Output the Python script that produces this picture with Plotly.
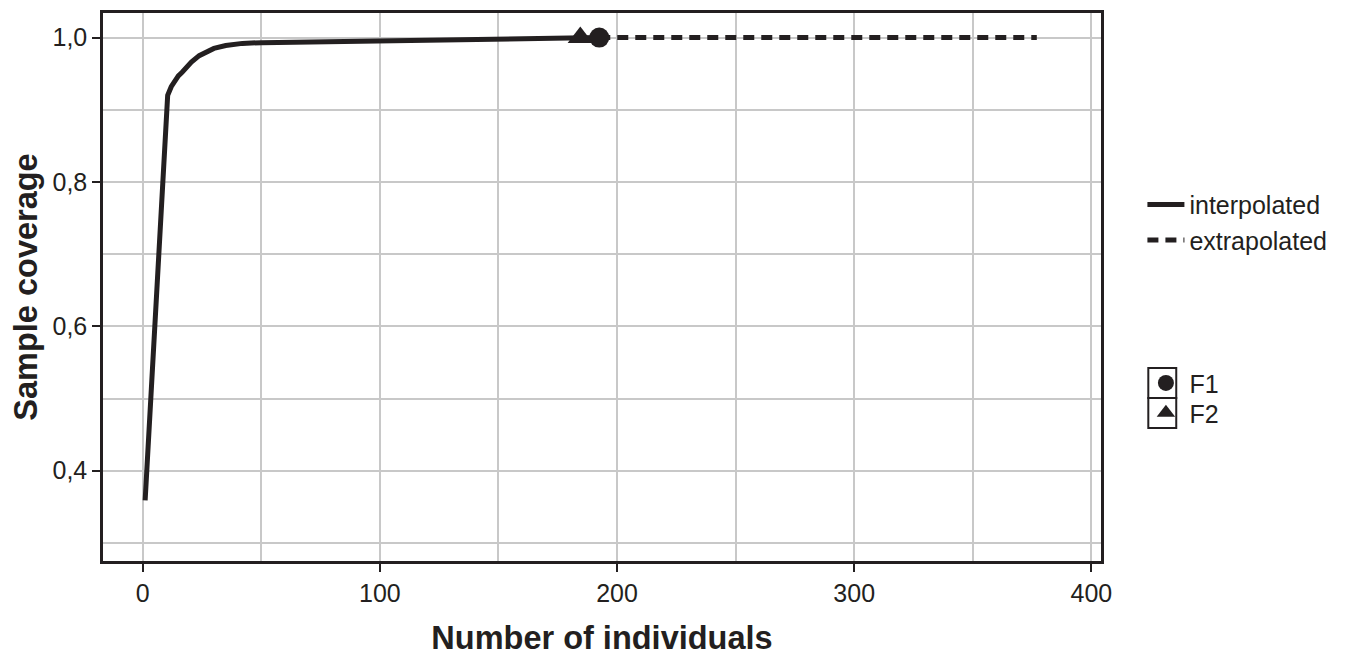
import plotly.graph_objects as go

# Data
interp_x = [1, 10.5, 12, 13.5, 15, 16.6, 18.5, 20.5, 23.8, 27, 30, 35, 42, 50, 100, 150, 192.5]
interp_y = [0.359, 0.92, 0.932, 0.941, 0.947, 0.952, 0.959, 0.966, 0.975, 0.981, 0.985, 0.989, 0.992, 0.993, 0.995, 0.997, 1.0]
extrap_x = [192.5, 377]
extrap_y = [1.0, 1.0]
site_names = ["F1", "F2"]
site_x = [192.5, 184.5]
site_y = [1.0, 1.0]
site_symbols = ["circle", "triangle-up"]
site_sizes = [20, 22]

INK = "#231f20"
GRID = "#c8c8c8"
FONT = "Liberation Sans, Arial, sans-serif"

fig = go.Figure()
fig.add_trace(go.Scatter(x=interp_x, y=interp_y, mode="lines", name="interpolated",
                         line=dict(color=INK, width=5), legend="legend"))
fig.add_trace(go.Scatter(x=extrap_x, y=extrap_y, mode="lines", name="extrapolated",
                         line=dict(color=INK, width=5, dash="11px,7px"), legend="legend"))
site_legends = ["legend2", "legend3"]
for nm, sx, sy, sym, sz, lg in zip(site_names, site_x, site_y, site_symbols, site_sizes, site_legends):
    fig.add_trace(go.Scatter(x=[sx], y=[sy], mode="markers", name=nm,
                             marker=dict(symbol=sym, size=sz, color=INK), legend=lg))

axis_common = dict(
    showline=True, mirror=True, linecolor=INK, linewidth=2.5,
    ticks="outside", ticklen=8, tickwidth=2, tickcolor=INK,
    showgrid=True, gridcolor=GRID, gridwidth=1.5, zeroline=False,
    tickfont=dict(size=25, color=INK, family=FONT),
)

# legend key boxes (ggplot-style) around the F1 / F2 symbols
for y_top, y_bot in [(0.3520, 0.2974), (0.2974, 0.2429)]:
    fig.add_shape(type="rect", xref="paper", yref="paper", x0=1.0474, x1=1.0754, y0=y_bot, y1=y_top,
                  line=dict(color=INK, width=2), fillcolor="rgba(0,0,0,0)", layer="above")

leg_common = dict(x=1.0415, xanchor="left", yanchor="top", font=dict(size=25, color=INK, family=FONT),
                  bgcolor="rgba(0,0,0,0)", itemwidth=37, tracegroupgap=0)

fig.update_layout(
    width=1346, height=657,
    margin=dict(l=95, r=253, t=2, b=104),
    plot_bgcolor="white", paper_bgcolor="white",
    separators=",.",
    font=dict(family=FONT, color=INK),
    xaxis=dict(**axis_common, range=[-16.77, 404.07], tickvals=[0, 100, 200, 300, 400],
               minor=dict(tickvals=[50, 150, 250, 350], showgrid=True, gridcolor=GRID, gridwidth=1.5, ticks=""),
               title=dict(text="<b>Number of individuals</b>", font=dict(size=32.5, color=INK, family=FONT), standoff=21)),
    yaxis=dict(**axis_common, range=[0.2749, 1.0341], tickvals=[0.4, 0.6, 0.8, 1.0], tickformat=".1f",
               minor=dict(tickvals=[0.3, 0.5, 0.7, 0.9], showgrid=True, gridcolor=GRID, gridwidth=1.5, ticks=""),
               title=dict(text="<b>Sample coverage</b>", font=dict(size=32.5, color=INK, family=FONT), standoff=8)),
    legend=dict(**leg_common, y=0.692),
    legend2=dict(**leg_common, y=0.3665),
    legend3=dict(**leg_common, y=0.3120),
)

fig.write_html("out.html")
